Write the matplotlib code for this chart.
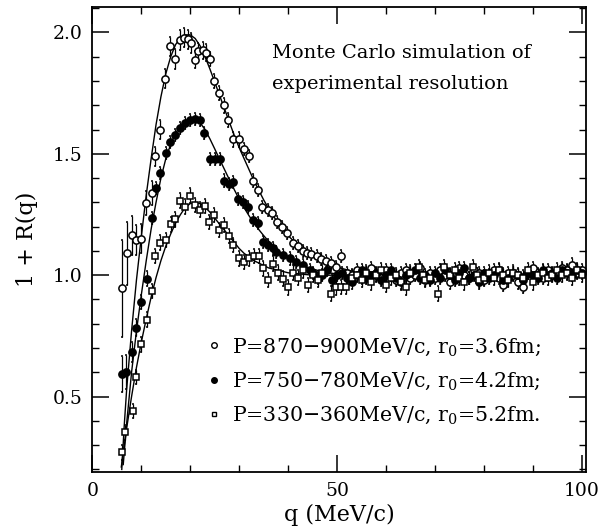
import matplotlib
matplotlib.use("Agg")
import matplotlib.pyplot as plt
from matplotlib.lines import Line2D
from matplotlib.ticker import MultipleLocator, FixedLocator

plt.rcParams["font.family"] = ["DejaVu Serif"]
plt.rcParams["mathtext.fontset"] = "dejavuserif"

# open circles: P=870-900 MeV/c
q_open = [6.0, 7.0, 8.0, 9.0, 10.0, 10.9, 12.1, 12.8, 13.8, 14.8, 15.8, 16.8, 17.9, 18.7, 19.6,
          20.2, 20.9, 21.6, 22.5, 23.3, 24.0, 24.9, 25.9, 26.8, 27.8, 28.7, 29.9, 30.9, 31.9, 32.8,
          33.8, 34.7, 35.8, 36.8, 37.7, 38.8, 39.8, 40.9, 42.0, 43.0, 43.9, 44.7, 45.8, 46.8, 47.8,
          48.8, 49.8, 50.7, 52, 53, 54, 55, 56, 57, 58, 59, 60, 61, 62, 63, 64, 65, 66, 67, 68, 69,
          70, 71, 72, 73, 74, 75, 76, 77, 78, 79, 80, 81, 82, 83, 84, 85, 86, 87, 88, 89, 90, 91,
          92, 93, 94, 95, 96, 97, 98, 99, 100]
r_open = [0.946, 1.09, 1.165, 1.145, 1.15, 1.296, 1.338, 1.489, 1.60, 1.81, 1.943, 1.89, 1.968,
          1.978, 1.971, 1.957, 1.888, 1.923, 1.927, 1.916, 1.89, 1.80, 1.75, 1.70, 1.64, 1.56, 1.56,
          1.52, 1.49, 1.39, 1.35, 1.28, 1.27, 1.255, 1.22, 1.197, 1.175, 1.133, 1.12, 1.10, 1.09,
          1.087, 1.08, 1.065, 1.06, 1.05, 1.034, 1.078, 1.01, 1.00, 1.02, 0.99, 1.01, 1.03, 1.00,
          0.99, 1.02, 1.00, 0.98, 1.01, 1.02, 0.99, 1.00, 1.03, 0.98, 1.01, 0.99, 1.02, 1.00, 0.97,
          1.01, 1.03, 1.00, 0.99, 1.02, 1.01, 0.98, 1.00, 1.02, 0.99, 0.96, 1.01, 1.00, 0.97, 0.95,
          1.01, 1.03, 1.00, 0.99, 1.02, 1.00, 1.01, 1.03, 1.02, 1.044, 1.01, 1.02]
e_open = [0.20, 0.13, 0.08, 0.06, 0.06, 0.05, 0.05, 0.04, 0.04, 0.04, 0.04, 0.04, 0.04, 0.04,
          0.04, 0.04, 0.035, 0.035, 0.035, 0.035, 0.03, 0.03, 0.03, 0.03, 0.03, 0.03, 0.03] + [0.025] * 70

# filled circles: P=750-780 MeV/c
q_full = [6.0, 6.8, 8.0, 9.0, 10.0, 11.1, 12.1, 13.0, 13.9, 15.0, 15.8, 16.8, 17.9, 18.9, 19.9,
          20.9, 21.9, 22.8, 24.0, 25.0, 26.0, 26.9, 27.9, 28.7, 29.8, 30.8, 31.8, 32.8, 33.8, 34.9,
          35.9, 36.9, 37.6, 38.9, 40.3, 41.7, 43.0, 44.4, 45, 46, 47, 48, 49, 50, 51, 52, 53, 54,
          55, 56, 57, 58, 59, 60, 61, 62, 63, 64, 65, 66, 67, 68, 69, 70, 71, 72, 73, 74, 75, 76,
          77, 78, 79, 80, 81, 82, 83, 84, 85, 86, 87, 88, 89, 90, 91, 92, 93, 94, 95, 96, 97, 98,
          99, 100]
r_full = [0.594, 0.60, 0.683, 0.784, 0.89, 0.986, 1.234, 1.358, 1.42, 1.505, 1.547, 1.578, 1.606,
          1.627, 1.64, 1.643, 1.64, 1.585, 1.48, 1.48, 1.48, 1.39, 1.376, 1.385, 1.313, 1.30, 1.28,
          1.227, 1.216, 1.138, 1.124, 1.11, 1.096, 1.083, 1.069, 1.055, 1.04, 1.02, 1.01, 0.99,
          1.00, 1.02, 0.98, 1.00, 1.01, 0.99, 0.97, 1.00, 1.02, 0.99, 1.00, 1.01, 0.98, 1.00, 1.02,
          0.99, 0.97, 1.00, 1.01, 1.02, 0.99, 1.00, 0.98, 1.01, 0.99, 1.02, 1.00, 0.98, 1.01, 1.03,
          0.99, 1.00, 0.97, 1.01, 0.99, 1.00, 1.02, 0.98, 0.99, 1.01, 1.00, 0.98, 1.01, 1.00, 0.99,
          1.02, 1.00, 1.01, 0.99, 1.02, 1.01, 1.00, 1.02, 1.01]
e_full = [0.075, 0.07, 0.04, 0.035, 0.03, 0.03] + [0.025] * 88

# open squares: P=330-360 MeV/c
q_sq = [6.0, 6.6, 8.2, 9.0, 10.0, 11.1, 12.1, 12.8, 13.8, 15.0, 16.0, 16.8, 17.9, 18.9, 19.9,
        20.9, 21.9, 23.0, 23.8, 24.9, 25.9, 26.9, 27.9, 28.8, 29.9, 31.0, 32.0, 33.0, 34.0, 34.9,
        35.9, 36.9, 37.9, 38.9, 40.0, 41.0, 42, 43, 44, 45, 46, 47, 48.8, 49.8, 50.9, 51.9, 53,
        54, 55, 56, 57, 58, 59, 60, 61, 62, 63, 64, 65, 66.7, 67.5, 68, 69, 70.6, 71.9, 73, 74,
        75, 76, 77.7, 78.5, 79, 80, 81, 82, 83, 84, 85, 86, 87, 88, 89, 90, 91, 92, 93, 94, 95,
        96, 97, 98, 99, 100]
r_sq = [0.27, 0.353, 0.44, 0.58, 0.715, 0.817, 0.935, 1.079, 1.134, 1.145, 1.21, 1.23, 1.307,
        1.282, 1.328, 1.29, 1.27, 1.285, 1.22, 1.248, 1.186, 1.207, 1.161, 1.124, 1.069, 1.055,
        1.069, 1.079, 1.079, 1.028, 0.98, 1.048, 1.01, 0.986, 0.95, 1.01, 0.99, 1.02, 0.96, 1.00,
        0.98, 1.01, 0.924, 0.95, 0.952, 0.952, 0.99, 1.00, 0.98, 1.01, 0.97, 1.00, 1.02, 0.96,
        0.99, 1.00, 0.97, 0.95, 1.01, 1.034, 1.00, 0.98, 0.99, 0.924, 1.034, 1.00, 1.02, 0.99,
        0.97, 1.034, 1.00, 0.98, 0.99, 1.01, 0.99, 1.02, 1.00, 0.98, 1.01, 1.00, 0.99, 1.02,
        0.97, 1.00, 1.01, 0.99, 1.00, 1.02, 1.00, 1.01, 0.99, 1.02, 1.00]
e_sq = [0.03] * 93

# Monte Carlo curves
qc_open = [6.0, 6.5, 7, 8, 9, 10, 11, 12, 13, 14, 15, 16, 17, 18, 19, 20, 21, 22, 23, 24, 25, 26,
           27, 28, 29, 30, 31, 32, 33, 34, 35, 36, 37, 38, 39, 40, 42, 44, 46, 48, 50, 53, 56, 60,
           70, 80, 90, 100]
rc_open = [0.20, 0.38, 0.53, 0.77, 0.98, 1.16, 1.33, 1.48, 1.62, 1.735, 1.83, 1.90, 1.95, 1.978,
           1.99, 1.99, 1.975, 1.945, 1.90, 1.85, 1.795, 1.74, 1.685, 1.63, 1.575, 1.525, 1.48,
           1.435, 1.39, 1.35, 1.31, 1.275, 1.243, 1.213, 1.187, 1.163, 1.123, 1.092, 1.068, 1.048,
           1.033, 1.017, 1.007, 1.0, 1.0, 1.0, 1.0, 1.0]
qc_full = [6.3, 7, 8, 9, 10, 11, 12, 13, 14, 15, 16, 17, 18, 19, 20, 21, 22, 23, 24, 25, 26, 27,
           28, 29, 30, 31, 32, 33, 34, 35, 36, 37, 38, 40, 42, 44, 46, 48, 50, 55, 60, 80, 100]
rc_full = [0.22, 0.39, 0.60, 0.77, 0.92, 1.06, 1.19, 1.30, 1.40, 1.48, 1.54, 1.585, 1.615, 1.635,
           1.645, 1.643, 1.628, 1.60, 1.562, 1.52, 1.477, 1.435, 1.393, 1.352, 1.313, 1.278, 1.245,
           1.215, 1.188, 1.163, 1.14, 1.12, 1.10, 1.07, 1.048, 1.032, 1.02, 1.011, 1.005, 1.0, 1.0,
           1.0, 1.0]
qc_sq = [5.9, 7, 8, 9, 10, 11, 12, 13, 14, 15, 16, 17, 18, 19, 20, 21, 22, 23, 24, 25, 26, 27, 28,
         29, 30, 31, 32, 33, 34, 35, 36, 38, 40, 45, 50, 60, 80, 100]
rc_sq = [0.21, 0.37, 0.50, 0.62, 0.725, 0.82, 0.91, 0.99, 1.06, 1.12, 1.17, 1.215, 1.25, 1.28,
         1.295, 1.30, 1.295, 1.28, 1.26, 1.235, 1.21, 1.185, 1.16, 1.135, 1.11, 1.09, 1.075,
         1.06, 1.05, 1.04, 1.03, 1.02, 1.01, 1.0, 1.0, 1.0, 1.0, 1.0]

labels = ["P=870\u2212900MeV/c, r$_0$=3.6fm;",
          "P=750\u2212780MeV/c, r$_0$=4.2fm;",
          "P=330\u2212360MeV/c, r$_0$=5.2fm."]

fig = plt.figure(figsize=(6.12, 5.29), dpi=100)
ax = fig.add_axes([0.151, 0.108, 0.806, 0.878])

line_kw = dict(color="black", lw=1.0, zorder=2)
ax.plot(qc_open, rc_open, **line_kw)
ax.plot(qc_full, rc_full, **line_kw)
ax.plot(qc_sq, rc_sq, **line_kw)

err_kw = dict(ls="none", ecolor="black", elinewidth=0.9, capsize=1.0, capthick=0.9,
              markeredgecolor="black", markeredgewidth=1.1, zorder=3)
ax.errorbar(q_open, r_open, yerr=e_open, fmt="o", ms=5.2, markerfacecolor="white", **err_kw)
ax.errorbar(q_full, r_full, yerr=e_full, fmt="o", ms=5.2, markerfacecolor="black", **err_kw)
ax.errorbar(q_sq, r_sq, yerr=e_sq, fmt="s", ms=4.5, markerfacecolor="white", **err_kw)

ax.set_xlim(0, 100.8)
ax.set_ylim(0.19, 2.103)
ax.xaxis.set_major_locator(FixedLocator([0, 50, 100]))
ax.xaxis.set_minor_locator(MultipleLocator(10))
ax.yaxis.set_major_locator(FixedLocator([0.5, 1.0, 1.5, 2.0]))
ax.yaxis.set_minor_locator(MultipleLocator(0.1))
ax.tick_params(which="both", direction="in", top=True, right=True, labelsize=13.5)
ax.tick_params(which="major", length=12, width=1.1, pad=7)
ax.tick_params(which="minor", length=5, width=1.0)
for sp in ax.spines.values():
    sp.set_linewidth(1.3)

ax.set_xlabel("q (MeV/c)", fontsize=16, labelpad=3)
ax.set_ylabel("1 + R(q)", fontsize=16, labelpad=11)

ax.text(0.364, 0.922, "Monte Carlo simulation of\nexperimental resolution",
        transform=ax.transAxes, fontsize=14, va="top", ha="left", linespacing=1.95)

handles = [Line2D([], [], ls="none", marker="o", ms=4, mfc="white", mec="black", mew=1.0),
           Line2D([], [], ls="none", marker="o", ms=4, mfc="black", mec="black", mew=1.0),
           Line2D([], [], ls="none", marker="s", ms=3.5, mfc="white", mec="black", mew=1.0)]
ax.legend(handles, labels, loc="lower left", bbox_to_anchor=(0.232, 0.098), frameon=False,
          fontsize=14.8, handlelength=0.7, handletextpad=0.5, labelspacing=0.62,
          borderpad=0, borderaxespad=0)

fig.savefig("out.png", dpi=100)
